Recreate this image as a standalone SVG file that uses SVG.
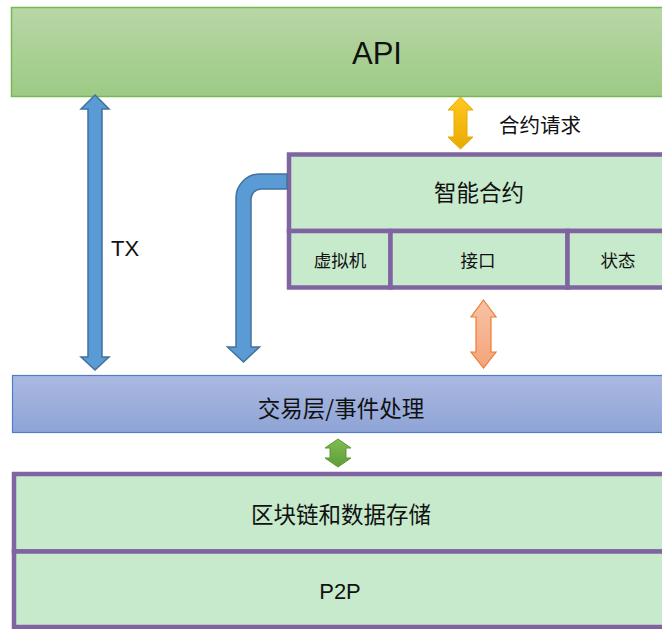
<svg xmlns="http://www.w3.org/2000/svg" width="662" height="629" viewBox="0 0 662 629">
<defs>
<linearGradient id="gApi" x1="0" y1="0" x2="0" y2="1"><stop offset="0" stop-color="#b8d7a6"/><stop offset="1" stop-color="#9dca85"/></linearGradient>
<linearGradient id="gTx" x1="0" y1="0" x2="0" y2="1"><stop offset="0" stop-color="#abb9e1"/><stop offset="1" stop-color="#8ea4d6"/></linearGradient>
<linearGradient id="gYel" x1="0" y1="0" x2="0" y2="1"><stop offset="0" stop-color="#ffc820"/><stop offset="1" stop-color="#e9aa00"/></linearGradient>
<linearGradient id="gOr" x1="0" y1="0" x2="0" y2="1"><stop offset="0" stop-color="#f8c2a4"/><stop offset="1" stop-color="#f4a47a"/></linearGradient>
<linearGradient id="gGr" x1="0" y1="0" x2="0" y2="1"><stop offset="0" stop-color="#7fbd52"/><stop offset="1" stop-color="#5f9c38"/></linearGradient>
</defs>
<style>
.cell{fill:#c6eacb;stroke:#8064a2;stroke-width:4.5}
.cjk{font-family:"Noto Sans CJK SC","Noto Sans",sans-serif;fill:#111;text-anchor:middle;dominant-baseline:central}
.lat{font-family:"Liberation Sans",Arial,sans-serif;fill:#111;text-anchor:middle}
.blue{fill:#5b9bd5;stroke:#41719c;stroke-width:1.5}
</style>
<g id="api">
<rect x="11.5" y="7.5" width="660" height="89" fill="url(#gApi)" stroke="#7ab657" stroke-width="1.5"/>
<text class="lat" x="377" y="64" font-size="31">API</text>
</g>
<g id="smart-contract">
<rect class="cell" x="289" y="154.5" width="380" height="76.5"/>
<text class="cjk" x="479" y="191" font-size="22.5">智能合约</text>
</g>
<g id="vm">
<rect class="cell" x="289" y="231" width="101.5" height="56.5"/>
<text class="cjk" x="340" y="259.5" font-size="17.5">虚拟机</text>
</g>
<g id="interface">
<rect class="cell" x="390.5" y="231" width="177" height="56.5"/>
<text class="cjk" x="478" y="259.5" font-size="17.5">接口</text>
</g>
<g id="state">
<rect class="cell" x="567.5" y="231" width="100" height="56.5"/>
<text class="cjk" x="618" y="259.5" font-size="17.5">状态</text>
</g>
<g id="tx-layer">
<rect x="12.5" y="375.5" width="660" height="57" fill="url(#gTx)" stroke="#4f7bc8" stroke-width="1.2"/>
<text class="cjk" x="341" y="406.5" font-size="22.5">交易层/事件处理</text>
</g>
<g id="storage">
<rect class="cell" x="14" y="474" width="660" height="77.5"/>
<text class="cjk" x="341" y="513" font-size="22.5">区块链和数据存储</text>
</g>
<g id="p2p">
<rect class="cell" x="14" y="551.5" width="660" height="75.5"/>
<text class="lat" x="340" y="599" font-size="22">P2P</text>
</g>
<g id="connectors">
<path class="blue" d="M95 95 L109 109 L102 109 L102 357 L109 357 L95 370 L81 357 L88 357 L88 109 L81 109 Z"/>
<path class="blue" d="M287 174 L260 174 A24 24 0 0 0 236 198 L236 347 L227.5 347 L243.5 362 L259.5 347 L251 347 L251 199 A10 10 0 0 1 261 189 L287 189 Z"/>
<path d="M460.5 97 L473 110 L467 110 L467 137 L473 137 L460.5 149 L448 137 L454 137 L454 110 L448 110 Z" fill="url(#gYel)" stroke="#e8aa00" stroke-width="1"/>
<path d="M483.5 300 L496 317 L491 317 L491 352 L496 352 L483.5 368 L471 352 L476 352 L476 317 L471 317 Z" fill="url(#gOr)" stroke="#ed7d31" stroke-width="1.2"/>
<path d="M338 439 L351 448 L346 448 L346 458 L351 458 L338 467 L325 458 L330 458 L330 448 L325 448 Z" fill="url(#gGr)" stroke="#5a9a34" stroke-width="1"/>
<text class="lat" x="125" y="256" font-size="22">TX</text>
<text class="cjk" x="540" y="124" font-size="20.5">合约请求</text>
</g>
</svg>
